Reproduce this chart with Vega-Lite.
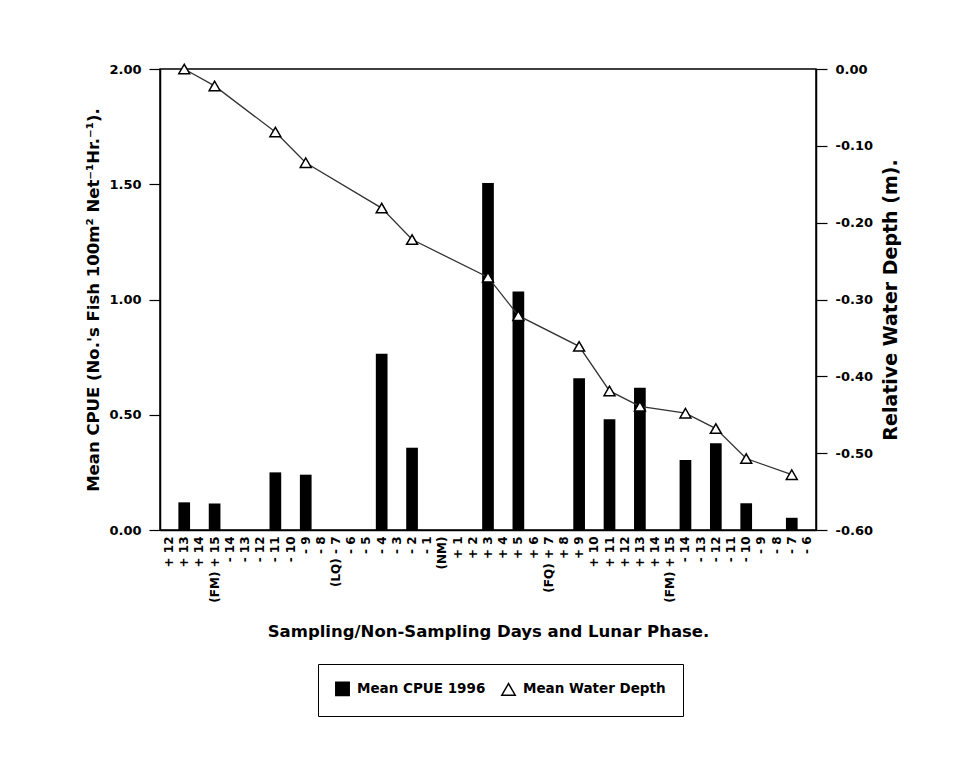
{
  "$schema": "https://vega.github.io/schema/vega-lite/v6.json",
  "autosize": {"type": "none"},
  "padding": {"left": 160, "top": 69, "right": 159, "bottom": 235},
  "width": 656,
  "height": 461,
  "background": "white",
  "config": {
    "view": {"stroke": "black", "strokeWidth": 1.5},
    "font": "DejaVu Sans",
    "axis": {
      "domainColor": "black",
      "tickColor": "black",
      "labelColor": "black",
      "titleColor": "black",
      "grid": false,
      "labelFont": "DejaVu Sans",
      "titleFont": "DejaVu Sans",
      "labelFontWeight": "bold",
      "titleFontWeight": "bold",
      "domainWidth": 1.5,
      "tickWidth": 1.2
    },
    "legend": {
      "labelFont": "DejaVu Sans",
      "labelFontWeight": "bold"
    }
  },
  "datasets": {
    "cpue": [
      {"slot": 1, "day": "+13", "cpue": 0.12, "series": "Mean CPUE 1996"},
      {"slot": 3, "day": "+15 (FM)", "cpue": 0.115, "series": "Mean CPUE 1996"},
      {"slot": 7, "day": "-11", "cpue": 0.25, "series": "Mean CPUE 1996"},
      {"slot": 9, "day": "-9", "cpue": 0.24, "series": "Mean CPUE 1996"},
      {"slot": 14, "day": "-4", "cpue": 0.765, "series": "Mean CPUE 1996"},
      {"slot": 16, "day": "-2", "cpue": 0.357, "series": "Mean CPUE 1996"},
      {"slot": 21, "day": "+3", "cpue": 1.505, "series": "Mean CPUE 1996"},
      {"slot": 23, "day": "+5", "cpue": 1.035, "series": "Mean CPUE 1996"},
      {"slot": 27, "day": "+9", "cpue": 0.658, "series": "Mean CPUE 1996"},
      {"slot": 29, "day": "+11", "cpue": 0.48, "series": "Mean CPUE 1996"},
      {"slot": 31, "day": "+13", "cpue": 0.617, "series": "Mean CPUE 1996"},
      {"slot": 34, "day": "-14", "cpue": 0.304, "series": "Mean CPUE 1996"},
      {"slot": 36, "day": "-12", "cpue": 0.376, "series": "Mean CPUE 1996"},
      {"slot": 38, "day": "-10", "cpue": 0.116, "series": "Mean CPUE 1996"},
      {"slot": 41, "day": "-7", "cpue": 0.053, "series": "Mean CPUE 1996"}
    ],
    "depth": [
      {"slot": 1, "day": "+13", "depth": 0.0, "series": "Mean Water Depth"},
      {"slot": 3, "day": "+15 (FM)", "depth": -0.022, "series": "Mean Water Depth"},
      {"slot": 7, "day": "-11", "depth": -0.082, "series": "Mean Water Depth"},
      {"slot": 9, "day": "-9", "depth": -0.122, "series": "Mean Water Depth"},
      {"slot": 14, "day": "-4", "depth": -0.181, "series": "Mean Water Depth"},
      {"slot": 16, "day": "-2", "depth": -0.222, "series": "Mean Water Depth"},
      {"slot": 21, "day": "+3", "depth": -0.271, "series": "Mean Water Depth"},
      {"slot": 23, "day": "+5", "depth": -0.321, "series": "Mean Water Depth"},
      {"slot": 27, "day": "+9", "depth": -0.361, "series": "Mean Water Depth"},
      {"slot": 29, "day": "+11", "depth": -0.419, "series": "Mean Water Depth"},
      {"slot": 31, "day": "+13", "depth": -0.439, "series": "Mean Water Depth"},
      {"slot": 34, "day": "-14", "depth": -0.448, "series": "Mean Water Depth"},
      {"slot": 36, "day": "-12", "depth": -0.468, "series": "Mean Water Depth"},
      {"slot": 38, "day": "-10", "depth": -0.507, "series": "Mean Water Depth"},
      {"slot": 41, "day": "-7", "depth": -0.528, "series": "Mean Water Depth"}
    ]
  },
  "encoding": {
    "x": {
      "field": "slot",
      "type": "ordinal",
      "scale": {
        "domain": [0,1,2,3,4,5,6,7,8,9,10,11,12,13,14,15,16,17,18,19,20,21,22,23,24,25,26,27,28,29,30,31,32,33,34,35,36,37,38,39,40,41,42],
        "paddingInner": 0.23,
        "paddingOuter": 0.21
      },
      "axis": {
        "title": "Sampling/Non-Sampling Days and Lunar Phase.",
        "titleFontSize": 16.5,
        "titlePadding": 21,
        "labelAngle": -90,
        "labelFontSize": 12,
        "labelPadding": 6,
        "ticks": false,
        "labelExpr": "['+ 12','+ 13','+ 14','(FM) + 15','- 14','- 13','- 12','- 11','- 10','- 9','- 8','(LQ) - 7','- 6','- 5','- 4','- 3','- 2','- 1','(NM)','+ 1','+ 2','+ 3','+ 4','+ 5','+ 6','(FQ) + 7','+ 8','+ 9','+ 10','+ 11','+ 12','+ 13','+ 14','(FM) + 15','- 14','- 13','- 12','- 11','- 10','- 9','- 8','- 7','- 6'][datum.value]"
      }
    }
  },
  "layer": [
    {
      "data": {"name": "cpue"},
      "mark": {"type": "bar"},
      "encoding": {
        "y": {
          "field": "cpue",
          "type": "quantitative",
          "scale": {"domain": [0, 2], "nice": false},
          "axis": {
            "orient": "left",
            "title": "Mean CPUE (No.'s Fish 100m² Net⁻¹Hr.⁻¹).",
            "titleFontSize": 16.5,
            "titlePadding": 7,
            "values": [0, 0.5, 1, 1.5, 2],
            "format": ".2f",
            "labelFontSize": 13,
            "tickSize": 11,
            "labelPadding": 8
          }
        },
        "fill": {
          "field": "series",
          "type": "nominal",
          "scale": {"domain": ["Mean CPUE 1996", "Mean Water Depth"], "range": ["black", "white"]},
          "legend": {
            "title": null,
            "orient": "none",
            "legendX": 158,
            "legendY": 595,
            "direction": "horizontal",
            "strokeColor": "black",
            "padding": 17,
            "labelFontSize": 13.5,
            "symbolSize": 180,
            "symbolStrokeColor": "black",
            "symbolStrokeWidth": 1.5,
            "columnPadding": 12,
            "labelOffset": 7
          }
        }
      }
    },
    {
      "data": {"name": "depth"},
      "encoding": {
        "y": {
          "field": "depth",
          "type": "quantitative",
          "scale": {"domain": [-0.6, 0], "nice": false, "zero": false},
          "axis": {
            "orient": "right",
            "title": "Relative Water Depth  (m).",
            "titleFontSize": 19,
            "titleAngle": 270,
            "titlePadding": 28,
            "values": [0, -0.1, -0.2, -0.3, -0.4, -0.5, -0.6],
            "labelExpr": "replace(format(datum.value, '.2f'), '−', '-')",
            "labelFontSize": 13,
            "tickSize": 11,
            "labelPadding": 8
          }
        }
      },
      "layer": [
        {
          "mark": {"type": "line", "color": "#333333", "strokeWidth": 1.3}
        },
        {
          "mark": {"type": "point", "filled": true, "stroke": "black", "strokeWidth": 1.5, "size": 120, "opacity": 1},
          "encoding": {
            "fill": {"field": "series", "type": "nominal"},
            "shape": {
              "field": "series",
              "type": "nominal",
              "scale": {"domain": ["Mean CPUE 1996", "Mean Water Depth"], "range": ["square", "triangle-up"]}
            }
          }
        }
      ]
    }
  ],
  "resolve": {"scale": {"y": "independent"}}
}
